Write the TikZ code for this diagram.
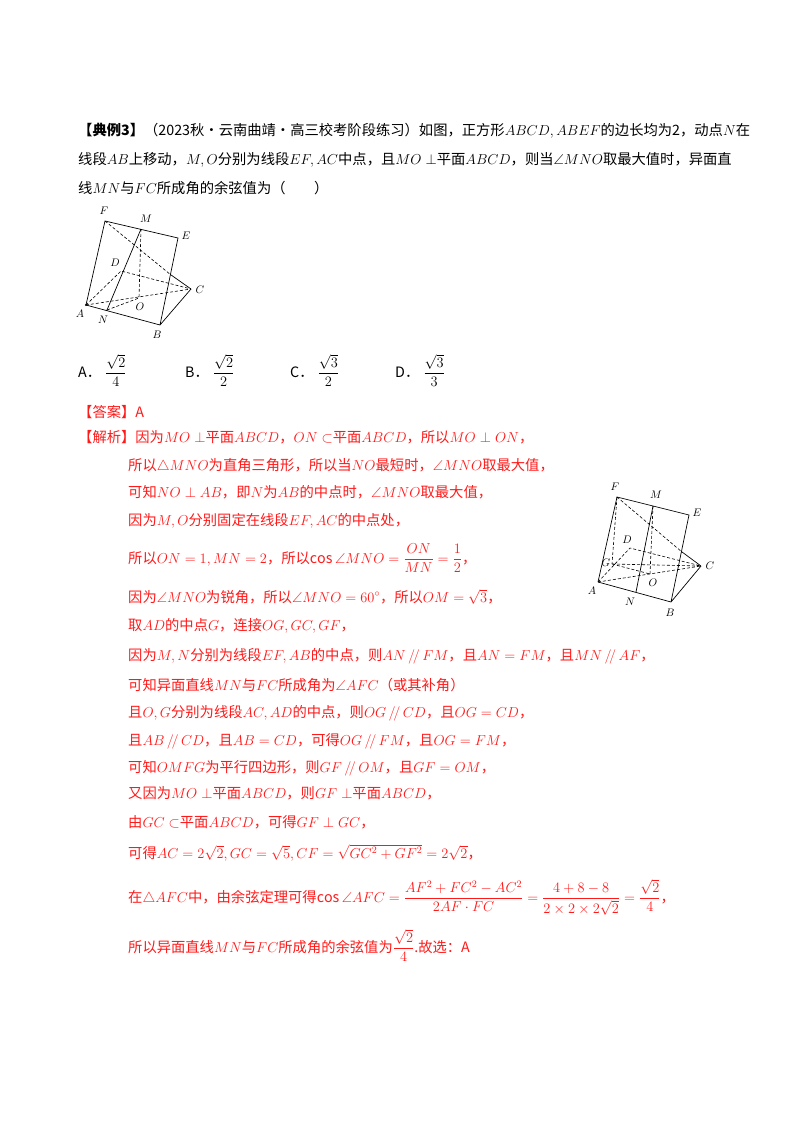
\documentclass[tikz,border=0pt]{standalone}
\usepackage{amsmath,amssymb}
\usepackage{fontspec}
\usetikzlibrary{calc}
\setmainfont{Noto Sans CJK SC}
\definecolor{rd}{HTML}{FF1A1A}
\begin{document}
\begin{tikzpicture}[x=1pt,y=-1pt,
  txt/.style={anchor=base west,inner sep=0pt,font=\fontsize{14.3}{16}\selectfont},
  rt/.style={txt,text=rd},
  lb/.style={inner sep=1pt,font=\fontsize{11}{12}\selectfont},
  sol/.style={line width=0.7pt},
  das/.style={line width=0.6pt,dash pattern=on 3pt off 2pt}]
\useasboundingbox[fill=white] (0,0) rectangle (800,1132);
% problem
\node[txt] (p1) at (78,135) {\textbf{【典例3】}（2023秋·云南曲靖·高三校考阶段练习）如图，正方形$ABCD,ABEF$的边长均为2，动点$N$在};
\node[txt] (p2) at (78,164) {线段$AB$上移动，$M,O$分别为线段$EF,AC$中点，且$MO\perp$平面$ABCD$，则当$\angle MNO$取最大值时，异面直};
\node[txt] (p3) at (78,193) {线$MN$与$FC$所成角的余弦值为（\qquad）};
% figure 1
\coordinate (F) at (105,221); \coordinate (M) at (141,229); \coordinate (E) at (178,238);
\coordinate (A) at (86,305); \coordinate (B) at (160,325); \coordinate (C) at (191,289);
\coordinate (D) at (121,271); \coordinate (O) at (139,298); \coordinate (N) at (107,310);
\coordinate (X) at ($(E)!0.42!(B)$);
\draw[sol] (A)--(F)--(E)--(B)--(A) (B)--(C) (M)--(N);
\draw[das] (A)--(D)--(C) (A)--(C) (F)--(X) (M)--(O) (N)--(O);
\draw[sol] (X)--(C);
\fill (A) circle (1.2pt);
\node[lb] (lF) at (104,211) {$F$}; \node[lb] (lM) at (146,219) {$M$}; \node[lb] (lE) at (186,236) {$E$};
\node[lb] (lD) at (115,263) {$D$}; \node[lb] (lC) at (200,290) {$C$}; \node[lb] (lA) at (80,314) {$A$};
\node[lb] (lN) at (103,320) {$N$}; \node[lb] (lO) at (140,307) {$O$}; \node[lb] (lB) at (157,335) {$B$};
% options
\node[txt] (oA) at (78,377) {A．\;$\dfrac{\sqrt2}{4}$};
\node[txt] (oB) at (185,377) {B．\;$\dfrac{\sqrt2}{2}$};
\node[txt] (oC) at (290,377) {C．\;$\dfrac{\sqrt3}{2}$};
\node[txt] (oD) at (395,377) {D．\;$\dfrac{\sqrt3}{3}$};
% answer
\node[rt] (ans) at (78,417) {【答案】A};
\node[rt] (s0) at (78,442) {【解析】因为$MO\perp$平面$ABCD$，$ON\subset$平面$ABCD$，所以$MO\perp ON$，};
\node[rt] (s1) at (128,470) {所以$\triangle MNO$为直角三角形，所以当$NO$最短时，$\angle MNO$取最大值，};
\node[rt] (s2) at (128,497) {可知$NO\perp AB$，即$N$为$AB$的中点时，$\angle MNO$取最大值，};
\node[rt] (s3) at (128,525) {因为$M,O$分别固定在线段$EF,AC$的中点处，};
\node[rt] (s4) at (128,563) {所以$ON=1,MN=2$，所以$\cos\angle MNO=\dfrac{ON}{MN}=\dfrac12$，};
\node[rt] (s5) at (128,602) {因为$\angle MNO$为锐角，所以$\angle MNO=60^\circ$，所以$OM=\sqrt3$，};
\node[rt] (s6) at (128,630) {取$AD$的中点$G$，连接$OG,GC,GF$，};
\node[rt] (s7) at (128,660) {因为$M,N$分别为线段$EF,AB$的中点，则$AN\,/\!/\,FM$，且$AN=FM$，且$MN\,/\!/\,AF$，};
\node[rt] (s8) at (128,690) {可知异面直线$MN$与$FC$所成角为$\angle AFC$（或其补角）};
\node[rt] (s9) at (128,717) {且$O,G$分别为线段$AC,AD$的中点，则$OG\,/\!/\,CD$，且$OG=CD$，};
\node[rt] (s10) at (128,745) {且$AB\,/\!/\,CD$，且$AB=CD$，可得$OG\,/\!/\,FM$，且$OG=FM$，};
\node[rt] (s11) at (128,772) {可知$OMFG$为平行四边形，则$GF\,/\!/\,OM$，且$GF=OM$，};
\node[rt] (s12) at (128,798) {又因为$MO\perp$平面$ABCD$，则$GF\perp$平面$ABCD$，};
\node[rt] (s13) at (128,827) {由$GC\subset$平面$ABCD$，可得$GF\perp GC$，};
\node[rt] (s14) at (128,858) {可得$AC=2\sqrt2,GC=\sqrt5,CF=\sqrt{GC^2+GF^2}=2\sqrt2$，};
\node[rt] (s15) at (128,902) {在$\triangle AFC$中，由余弦定理可得$\cos\angle AFC=\dfrac{AF^2+FC^2-AC^2}{2AF\cdot FC}=\dfrac{4+8-8}{2\times2\times2\sqrt2}=\dfrac{\sqrt2}{4}$，};
\node[rt] (s16) at (128,952) {所以异面直线$MN$与$FC$所成角的余弦值为$\dfrac{\sqrt2}{4}$.故选：A};
% figure 2
\coordinate (F2) at (617,497); \coordinate (M2) at (653,506); \coordinate (E2) at (689,515);
\coordinate (A2) at (598,582); \coordinate (N2) at (636,592); \coordinate (B2) at (671,602);
\coordinate (C2) at (701,566); \coordinate (D2) at (630,548); \coordinate (G2) at (612,564);
\coordinate (O2) at (650,574);
\coordinate (Y2) at ($(E2)!0.42!(B2)$);
\draw[sol] (A2)--(F2)--(E2)--(B2)--(A2) (B2)--(C2) (M2)--(N2) (Y2)--(C2);
\draw[das] (A2)--(D2)--(C2) (A2)--(C2) (G2)--(C2) (F2)--(G2) (F2)--(Y2) (M2)--(O2) (G2)--(O2);
\node[lb] (lF2) at (615,487) {$F$}; \node[lb] (lM2) at (656,495) {$M$}; \node[lb] (lE2) at (697,513) {$E$};
\node[lb] (lD2) at (627,540) {$D$}; \node[lb] (lG2) at (606,563) {$G$}; \node[lb] (lC2) at (710,566) {$C$};
\node[lb] (lA2) at (592,591) {$A$}; \node[lb] (lN2) at (630,602) {$N$}; \node[lb] (lO2) at (653,583) {$O$};
\node[lb] (lB2) at (670,613) {$B$};
\end{tikzpicture}
\end{document}
